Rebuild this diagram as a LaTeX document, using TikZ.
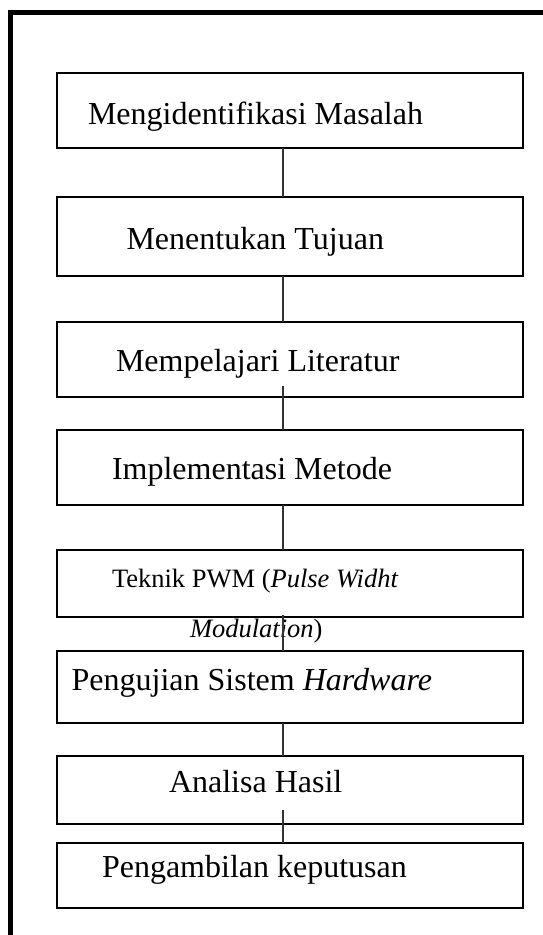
\documentclass[tikz,border=0pt]{standalone}
\usepackage{fontspec}
\setmainfont{Liberation Serif}
\usetikzlibrary{calc}
\begin{document}
\begin{tikzpicture}[x=1pt,y=-1pt,
  box/.style={draw=black, line width=1.2pt, minimum width=466pt, inner sep=0pt, outer sep=0pt},
  lbl/.style={anchor=base west, inner sep=0pt, outer sep=0pt, font=\fontsize{32}{38}\selectfont},
  lblsmall/.style={anchor=base west, inner sep=0pt, outer sep=0pt, font=\fontsize{26.5}{32}\selectfont},
  conn/.style={draw=black!80, line width=1.3pt},
  frame/.style={draw=black, line width=5pt}]
\useasboundingbox (0,0) rectangle (542,935);
% frame
\coordinate (fa) at (10.8,935);
\coordinate (fb) at (10.8,12);
\coordinate (fc) at (542,12);
\draw[frame, line cap=rect] (fa) -- (fb) -- (fc);
% boxes
\node[box, minimum height=75pt] (b1) at (290,110.5) {};
\node[box, minimum height=79pt] (b2) at (290,236.5) {};
\node[box, minimum height=75pt] (b3) at (290,359.5) {};
\node[box, minimum height=75pt] (b4) at (290,467.5) {};
\node[box, minimum height=67pt] (b5) at (290,583.5) {};
\node[box, minimum height=72pt] (b6) at (290,687) {};
\node[box, minimum height=68pt] (b7) at (290,790) {};
\node[box, minimum height=65pt] (b8) at (290,875.5) {};
% texts
\node[lbl] (t1) at (88,124) {Mengidentifikasi Masalah};
\node[lbl] (t2) at (126.5,249) {Menentukan Tujuan};
\node[lbl] (t3) at (116,371) {Mempelajari Literatur};
\node[lbl] (t4) at (112,479) {Implementasi Metode};
\node[lblsmall] (t5) at (112,587) {Teknik PWM (\textit{Pulse Widht}};
\node[lblsmall] (t5b) at (190,637) {\textit{Modulation})};
\node[lbl] (t6) at (71.7,690) {Pengujian Sistem \textit{Hardware}};
\node[lbl] (t7) at (169,792) {Analisa Hasil};
\node[lbl] (t8) at (102,877) {Pengambilan keputusan};
% connectors
\draw[conn] ([xshift=-7pt]b1.south) -- ([xshift=-7pt]b2.north);
\draw[conn] ([xshift=-7pt]b2.south) -- ([xshift=-7pt]b3.north);
\draw[conn] ([xshift=-7pt,yshift=11pt]b3.south) -- ([xshift=-7pt]b4.north);
\draw[conn] ([xshift=-7pt]b4.south) -- ([xshift=-7pt]b5.north);
\draw[conn] ([xshift=-7pt,yshift=2pt]b5.south) -- ([xshift=-7pt]b6.north);
\draw[conn] ([xshift=-7pt]b6.south) -- ([xshift=-7pt]b7.north);
\draw[conn] ([xshift=-7pt,yshift=14pt]b7.south) -- ([xshift=-7pt]b8.north);
\end{tikzpicture}
\end{document}
